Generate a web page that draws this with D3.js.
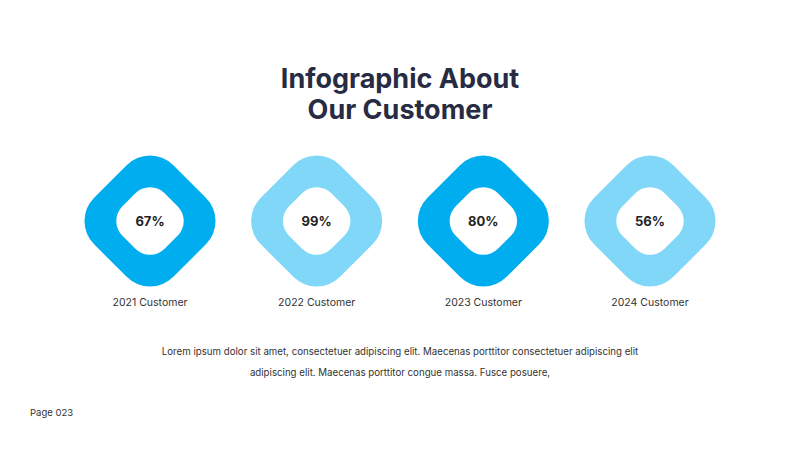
<!DOCTYPE html>
<html><head><meta charset="utf-8">
<script src="https://cdn.jsdelivr.net/npm/d3@7"></script>
<style>body{margin:0;background:#fff}</style></head>
<body><svg id="c" width="800" height="450"></svg>
<script>
const years = ["2021 Customer", "2022 Customer", "2023 Customer", "2024 Customer"];
const values = [67, 99, 80, 56];
const colors = ["#00adef", "#80d7f8", "#00adef", "#80d7f8"];

const svg = d3.select("#c");
const font = "Inter, 'Open Sans', sans-serif";
const x = d3.scalePoint().domain(years).range([150, 650]);

svg.append("text").attr("x", 400).attr("y", 88).attr("text-anchor", "middle")
  .attr("font-family", font).attr("font-weight", 700).attr("font-size", 27)
  .attr("fill", "#272b43").text("Infographic About");
svg.append("text").attr("x", 400).attr("y", 119).attr("text-anchor", "middle")
  .attr("font-family", font).attr("font-weight", 700).attr("font-size", 27)
  .attr("fill", "#272b43").text("Our Customer");

const g = svg.selectAll("g.item").data(years).join("g")
  .attr("transform", d => `translate(${x(d)},221)`);
g.append("rect").attr("x", -56).attr("y", -56).attr("width", 112).attr("height", 112)
  .attr("rx", 33).attr("transform", "rotate(45)").attr("fill", (d, i) => colors[i]);
g.append("rect").attr("x", -30).attr("y", -30).attr("width", 60).attr("height", 60)
  .attr("rx", 21).attr("transform", "rotate(45)").attr("fill", "#fff");
g.append("text").attr("text-anchor", "middle").attr("y", 5)
  .attr("font-family", font).attr("font-weight", 700).attr("font-size", 13)
  .attr("fill", "#222").text((d, i) => values[i] + "%");
g.append("text").attr("text-anchor", "middle").attr("y", 85)
  .attr("font-family", font).attr("font-size", 10.5).attr("fill", "#333").text(d => d);

const para = ["Lorem ipsum dolor sit amet, consectetuer adipiscing elit. Maecenas porttitor consectetuer adipiscing elit",
  "adipiscing elit. Maecenas porttitor congue massa. Fusce posuere,"];
svg.selectAll("text.p").data(para).join("text").attr("class", "p")
  .attr("x", 400).attr("y", (d, i) => 355 + i * 21).attr("text-anchor", "middle")
  .attr("font-family", font).attr("font-size", 9.7).attr("fill", "#333").text(d => d);
svg.append("text").attr("x", 30).attr("y", 416).attr("font-family", font)
  .attr("font-size", 9.5).attr("fill", "#333").text("Page 023");
</script></body></html>
